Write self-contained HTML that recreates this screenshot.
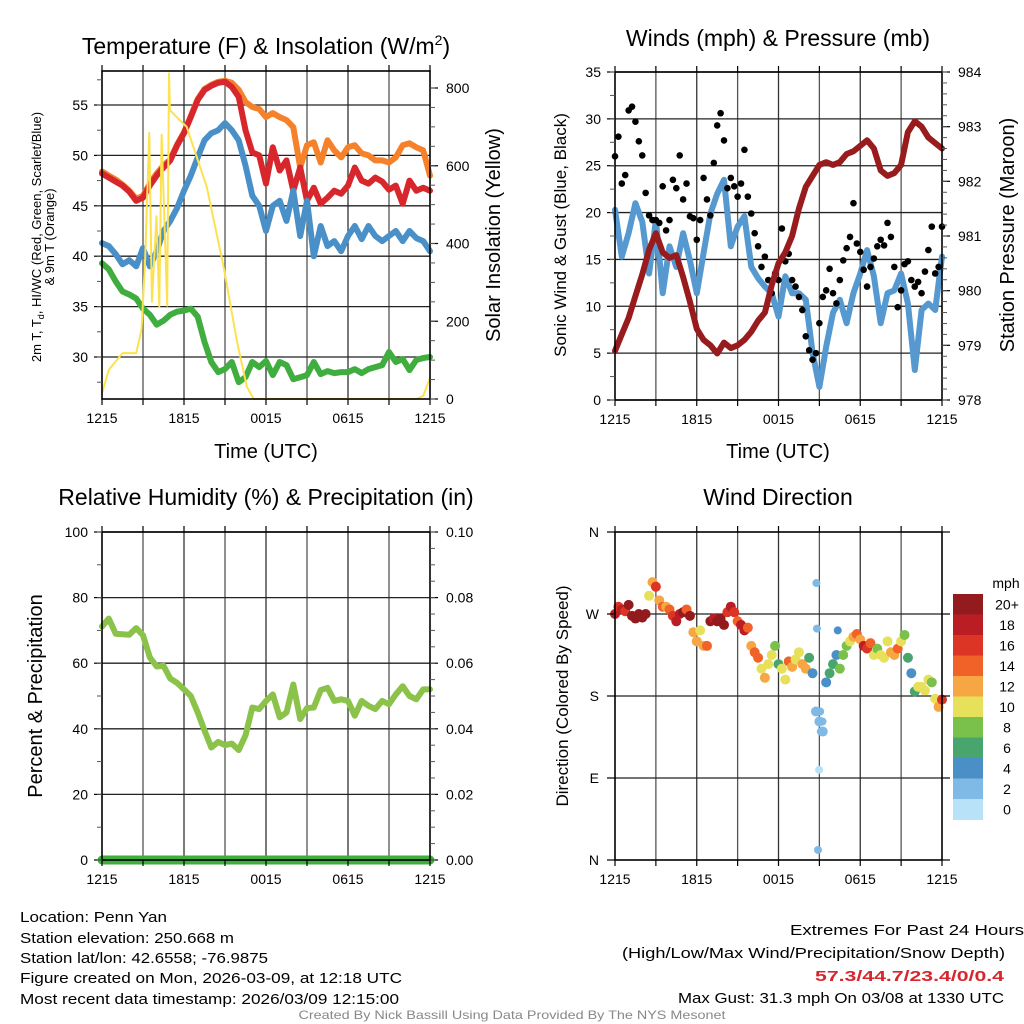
<!DOCTYPE html>
<html><head><meta charset="utf-8"><style>
html,body{margin:0;padding:0;background:#fff;}
svg{display:block;font-family:"Liberation Sans",sans-serif;}
</style></head><body>
<svg id="fig" width="1024" height="1024" viewBox="0 0 1024 1024" xmlns="http://www.w3.org/2000/svg">
<rect width="1024" height="1024" fill="#fff"/>
<g id="bg"></g>
<g id="marks"></g>
<g id="axes"></g>
<text x="266" y="54" font-size="23" text-anchor="middle">Temperature (F) &amp; Insolation (W/m<tspan font-size="14" dy="-9">2</tspan><tspan dy="9">)</tspan></text>
<text x="778" y="46" font-size="23" text-anchor="middle">Winds (mph) &amp; Pressure (mb)</text>
<text x="266" y="505" font-size="23" text-anchor="middle">Relative Humidity (%) &amp; Precipitation (in)</text>
<text x="778" y="505" font-size="23" text-anchor="middle">Wind Direction</text>
<g font-size="13" text-anchor="middle">
<text transform="translate(41,237) rotate(-90)">2m T, T<tspan font-size="9" dy="3">d</tspan><tspan dy="-3">, HI/WC (Red, Green, Scarlet/Blue)</tspan></text>
<text transform="translate(54,237) rotate(-90)">&amp; 9m T (Orange)</text>
</g>
<text transform="translate(500,235) rotate(-90)" font-size="20" text-anchor="middle">Solar Insolation (Yellow)</text>
<text transform="translate(566,235) rotate(-90)" font-size="17" text-anchor="middle">Sonic Wind &amp; Gust (Blue, Black)</text>
<text transform="translate(1014,235) rotate(-90)" font-size="20" text-anchor="middle">Station Pressure (Maroon)</text>
<text transform="translate(42,696) rotate(-90)" font-size="20" text-anchor="middle">Percent &amp; Precipitation</text>
<text transform="translate(568,696) rotate(-90)" font-size="17" text-anchor="middle">Direction (Colored By Speed)</text>
<text x="266" y="458" font-size="20" text-anchor="middle">Time (UTC)</text>
<text x="778" y="458" font-size="20" text-anchor="middle">Time (UTC)</text>
<g font-size="15" fill="#000">
<text x="20" y="922" textLength="147" lengthAdjust="spacingAndGlyphs">Location: Penn Yan</text>
<text x="20" y="943" textLength="214" lengthAdjust="spacingAndGlyphs">Station elevation: 250.668 m</text>
<text x="20" y="963" textLength="248" lengthAdjust="spacingAndGlyphs">Station lat/lon: 42.6558; -76.9875</text>
<text x="20" y="983" textLength="382" lengthAdjust="spacingAndGlyphs">Figure created on Mon, 2026-03-09, at 12:18 UTC</text>
<text x="20" y="1004" textLength="379" lengthAdjust="spacingAndGlyphs">Most recent data timestamp: 2026/03/09 12:15:00</text>
</g>
<g font-size="15" fill="#000">
<text x="790" y="935" textLength="234" lengthAdjust="spacingAndGlyphs">Extremes For Past 24 Hours</text>
<text x="622" y="958" textLength="383" lengthAdjust="spacingAndGlyphs">(High/Low/Max Wind/Precipitation/Snow Depth)</text>
<text x="815" y="981" textLength="189" lengthAdjust="spacingAndGlyphs" fill="#d7262c" font-weight="bold">57.3/44.7/23.4/0/0.4</text>
<text x="678" y="1003" textLength="326" lengthAdjust="spacingAndGlyphs">Max Gust: 31.3 mph On 03/08 at 1330 UTC</text>
</g>
<text x="512" y="1019" font-size="12" fill="#888" text-anchor="middle" textLength="427" lengthAdjust="spacingAndGlyphs">Created By Nick Bassill Using Data Provided By The NYS Mesonet</text>
</svg>
<script>
// ---- data (half-hourly unless noted, hours since 1215 UTC) ----
const xTickLabels = ["1215","1815","0015","0615","1215"];
const tempTicks = [30,35,40,45,50,55];
const solarTicks = [0,200,400,600,800];
const windTicks = [0,5,10,15,20,25,30,35];
const presTicks = [978,979,980,981,982,983,984];
const rhTicks = [0,20,40,60,80,100];
const precipTicks = ["0.00","0.02","0.04","0.06","0.08","0.10"];
const dirTickLabels = ["N","E","S","W","N"];
const speedBinLabels = ["0","2","4","6","8","10","12","14","16","18","20+"];

const tempRed = [48.2,47.8,47.4,47,46.4,45.5,45.8,47,48,48.8,49.5,51,52.2,53.8,55.5,56.5,56.9,57.2,57.3,56.8,55.8,52.5,50.3,50,47.2,50.8,48.5,49.5,46.5,48.8,45.5,46.8,45.2,45.8,46.5,46.2,47,48.8,47.5,47.2,47.8,47.4,46.6,47,45.2,47.5,46.5,46.8,46.5];
const temp9m = [48.4,48,47.6,47.1,46.5,45.7,46,47.2,48.2,49,49.6,51.1,52.3,53.9,55.6,56.6,57,57.3,57.4,57.2,56.5,55.3,54.8,54.6,53.8,54.2,53.8,53.5,52.8,48.8,51,51.3,49.3,51.5,50.5,49.8,50.8,51,50.2,50,49.5,49.5,49.3,49.8,51,51.2,50.8,50.5,48];
const tempBlue = [41.3,41,40.2,39.2,39.6,39,40.8,39,40.5,42.5,43.5,44.8,46.5,48,49.8,51.5,52.2,52.5,53.2,52.5,51.5,49,46,45,42.5,45,45.5,43.5,46.5,42,45.5,40,43,41,41.5,40.5,42,43,41.7,43,42,41.5,42,42.5,41.5,42.5,41.8,41.5,40.5];
const dewGreen = [39.3,38.7,37.5,36.5,36.2,35.8,34.8,34.2,33.2,33.6,34.2,34.5,34.6,34.8,34,31.5,29.5,28.5,28.8,29.5,27.5,28,29.5,29,29.6,28.2,29.5,29.2,27.8,28,28.2,29.5,28.3,28.6,28.4,28.5,28.5,28.8,28.4,28.8,29,29.2,30.5,29.5,29.8,28.7,29.7,29.9,30];
const solarHours = [0,0.5,1.5,2.5,2.9,3.15,3.46,3.65,3.99,4.19,4.36,4.77,4.9,4.97,5.7,6.2,7.67,8.9,9.9,10.6,11.1,12,23,23.5,24];
const solarVals = [15,75,118,118,180,357,685,250,470,237,680,240,838,743,717,700,545,340,144,31,0,0,0,8,54];

const windSpd = [20.3,15.3,17.8,21,19,13.5,19.2,11.4,16.4,14.2,17.8,14.9,11.4,15.7,19.9,22,23.5,16.4,18.5,19.6,14.2,13,12.1,11.4,8.9,13.2,11.4,11.4,10.7,5,1.4,5.7,9.3,10.7,8.2,11.4,13.5,16,13.2,8.2,11.4,11.7,13.5,10.3,3.2,9.6,10.3,9.6,15.3];
const gustSpd = [26,28.1,23.1,24,30.9,31.3,29.7,27.6,26.1,22.1,19.7,19.2,19.2,18.9,22.8,18.1,19.2,23.5,22.6,26.1,21.4,23.1,19.6,19.4,17.1,19.2,23.7,21.4,19.7,25.3,29.3,30.6,27.7,22.6,23.7,22.8,21.7,23.1,26.7,21.7,19.9,17.8,16.4,14.2,15.3,12.8,11.4,13.5,12.8,18.3,14.8,15.6,12.8,12.1,11,9.6,6.8,5.3,4.3,5,8.2,11,11.7,14,11.4,10.3,12.8,14.9,16.2,17.4,21,16.7,15.8,13.9,12.1,14.2,15.1,16.4,17.1,16.5,18.9,17.4,14.2,9.9,11.7,14.5,14.8,12.8,12.1,12.6,11.4,13.7,16,18.5,13.5,14.2,18.5];
const pressure = [978.9,979.2,979.5,979.9,980.3,980.75,981.05,980.7,980.6,980.65,980.25,979.8,979.3,979.1,979,978.85,979.05,978.95,979,979.1,979.25,979.45,979.6,980.1,980.5,980.7,981,981.5,981.9,982.1,982.3,982.35,982.3,982.35,982.5,982.55,982.65,982.75,982.6,982.2,982.1,982.15,982.3,982.9,983.1,983,982.8,982.7,982.6];

const rh = [71.2,73.6,69,68.8,68.7,70.7,68.5,61.8,59,59.2,55.3,54,52,50,45,39.5,34.3,36,35,35.5,33.5,38,46.5,46,48.5,50.5,43.5,45,53.5,43,46.3,46.5,51.8,52.5,48.5,49,48.5,44,48.5,47,46,48.5,47.5,50.5,53,50,49,52,52];
const precip = [0,0,0,0,0,0,0,0,0,0,0,0,0,0,0,0,0,0,0,0,0,0,0,0,0,0,0,0,0,0,0,0,0,0,0,0,0,0,0,0,0,0,0,0,0,0,0,0,0];

// wind direction, 15-minute
const windDir = [270,278,275,273,280,268,265,270,266,270,290,305,300,285,278,278,275,268,262,270,272,275,268,250,240,252,235,235,262,265,262,265,258,272,278,272,262,258,252,255,235,228,222,210,200,215,225,235,215,210,198,218,212,220,228,215,210,222,205,163,152,141,195,205,215,225,210,225,235,240,245,248,242,235,232,238,225,232,225,222,240,228,225,232,240,247,222,205,185,190,190,186,198,195,177,168,176];
const dirSpd = [18,16,18,16,20,20,20,20,20,20,10,12,16,12,14,12,14,16,18,18,20,14,20,12,12,10,12,14,20,18,20,20,20,16,18,16,14,18,18,14,12,14,14,10,12,10,10,8,6,10,10,14,12,10,10,12,12,6,4,2,2,2,4,6,6,4,8,8,8,10,12,14,12,18,16,14,10,8,10,10,10,12,12,14,10,8,6,4,6,10,10,10,10,8,10,12,16];
const calmHours = [14.78,14.82,15.06,15.23,15.1,14.98,14.9,16.35];
const calmDirs = [304,254,163,152,141,99,11,252];
const calmSpd = [2,2,2,2,2,0,2,4];

// ---- rendering ----
const NS = "http://www.w3.org/2000/svg";
const bg = document.getElementById('bg'), marks = document.getElementById('marks'), axes = document.getElementById('axes');
function el(tag, attrs, parent){const e=document.createElementNS(NS,tag);for(const k in attrs)e.setAttribute(k,attrs[k]);parent.appendChild(e);return e;}
function lin(d0,d1,r0,r1){return v=>r0+(v-d0)*(r1-r0)/(d1-d0);}
const binColors = ["#b7e2f7","#7fbae6","#4a8fc5","#49a56e","#7ac14c","#e6e05a","#f6a642","#f06228","#dc3425","#bb1d24","#931a1d"];

const P = {
  t:{x0:102,x1:430,y0:71,y1:399},
  w:{x0:615,x1:942,y0:72,y1:400},
  r:{x0:102,x1:430,y0:532,y1:860},
  d:{x0:615,x1:942,y0:532,y1:860}
};
for (const k in P){ P[k].x = lin(0,24,P[k].x0,P[k].x1); }

function frame(p, name){
  for(let h=3; h<24; h+=3){
    const g = el('line',{x1:p.x(h),x2:p.x(h),y1:p.y0,y2:p.y1,stroke:(h%6===0)?'#333':'#555','stroke-width':1.3},bg);
    
    
  }
  const r = el('rect',{x:p.x0,y:p.y0,width:p.x1-p.x0,height:p.y1-p.y0,fill:'none',stroke:'#000','stroke-width':1.6},axes);
  
  
  for(let i=0;i<=8;i++){
    const h=i*3, x=p.x(h);
    el('line',{x1:x,x2:x,y1:p.y1,y2:p.y1+6,stroke:'#000','stroke-width':1.2},axes);
    el('line',{x1:x,x2:x,y1:p.y0,y2:p.y0-6,stroke:'#000','stroke-width':1.2},axes);
    if(i%2===0){
      const t = el('text',{x:x,y:p.y1+24,'font-size':14,'text-anchor':'middle'},axes);
      t.textContent = xTickLabels[i/2];
      
      
    }
  }
}
function hGrid(p, y, vals, name){
  vals.forEach(v=>{
    const g = el('line',{x1:p.x0,x2:p.x1,y1:y(v),y2:y(v),stroke:'#222','stroke-width':1.3},bg);
    
    
  });
}
function leftTicks(p, y, vals, labels, name, minorStep){
  vals.forEach((v,i)=>{
    el('line',{x1:p.x0-8,x2:p.x0,y1:y(v),y2:y(v),stroke:'#000','stroke-width':1.2},axes);
    const t = el('text',{x:p.x0-14,y:y(v)+5,'font-size':14,'text-anchor':'end'},axes);
    t.textContent = labels[i];
    
    
  });
  if(minorStep){
    for(let v=vals[0]-minorStep; v<=vals[vals.length-1]+minorStep; v+=minorStep){
      const yy=y(v); if(yy<p.y0-1||yy>p.y1+1) continue;
      el('line',{x1:p.x0-5,x2:p.x0,y1:yy,y2:yy,stroke:'#555','stroke-width':1},axes);
    }
  }
}
function rightTicks(p, y, vals, labels, name, minorStep){
  vals.forEach((v,i)=>{
    el('line',{x1:p.x1,x2:p.x1+8,y1:y(v),y2:y(v),stroke:'#000','stroke-width':1.2},axes);
    const t = el('text',{x:p.x1+16,y:y(v)+5,'font-size':14,'text-anchor':'start'},axes);
    t.textContent = labels[i];
    
    
  });
  if(minorStep){
    for(let v=vals[0]; v<=vals[vals.length-1]+minorStep; v+=minorStep){
      const yy=y(v); if(yy<p.y0-1||yy>p.y1+1) continue;
      el('line',{x1:p.x1,x2:p.x1+5,y1:yy,y2:yy,stroke:'#555','stroke-width':1},axes);
    }
  }
}
function line(p, y, vals, hours, color, width, name){
  const pts = vals.map((v,i)=>p.x(hours? hours[i] : i*24/(vals.length-1)).toFixed(1)+','+y(v).toFixed(1)).join(' ');
  const pl = el('polyline',{points:pts,fill:'none',stroke:color,'stroke-width':width,'stroke-linejoin':'round','stroke-linecap':'round'},marks);
  
  
}

// Panel 1: temperature
const pt = P.t;
const yT = lin(30,55,357,105), yS = lin(0,800,399,88);
frame(pt,'temp');
hGrid(pt,yT,tempTicks,'temp');
leftTicks(pt,yT,tempTicks,tempTicks.map(String),'temp-y',2.5);
rightTicks(pt,yS,solarTicks,solarTicks.map(String),'solar-y',50);
line(pt,yT,dewGreen,null,'#3fae3f',6,'dewpoint-line');
line(pt,yT,temp9m,null,'#f5822a',6,'temp-9m-line');
line(pt,yT,tempRed,null,'#d7262c',6,'temp-2m-line');
line(pt,yT,tempBlue,null,'#4a90c8',6,'heat-index-windchill-line');
line(pt,yS,solarVals,solarHours,'#fde24f',2,'solar-insolation-line');

// Panel 2: winds
const pw = P.w;
const yW = lin(0,35,400,72), yP = lin(978,984,400,72);
frame(pw,'wind');
hGrid(pw,yW,windTicks,'wind');
leftTicks(pw,yW,windTicks,windTicks.map(String),'wind-y',2.5);
rightTicks(pw,yP,presTicks,presTicks.map(String),'pressure-y',0.2);
line(pw,yW,windSpd,null,'#5599d0',6,'sonic-wind-line');
gustSpd.forEach((g,i)=>{
  const c = el('circle',{cx:pw.x(i*0.25),cy:yW(g),r:3.3,fill:'#000'},marks);
  
  
});
line(pw,yP,pressure,null,'#981b1e',6,'pressure-line');

// Panel 3: RH
const pr = P.r;
const yR = lin(0,100,860,532), yPr = lin(0,0.1,860,532);
frame(pr,'rh');
hGrid(pr,yR,rhTicks,'rh');
leftTicks(pr,yR,rhTicks,rhTicks.map(String),'rh-y',10);
rightTicks(pr,yPr,precipTicks.map(Number),precipTicks,'precip-y',0.005);
line(pr,yR,rh,null,'#8bc34a',6,'relative-humidity-line');
line(pr,yPr,precip,null,'#3fae3f',9,'precipitation-line');

// Panel 4: wind direction
const pd = P.d;
const yD = lin(0,360,860,532);
frame(pd,'direction');
hGrid(pd,yD,[90,180,270],'direction');
[0,90,180,270,360].forEach((v,i)=>{
  el('line',{x1:pd.x0-8,x2:pd.x0,y1:yD(v),y2:yD(v),stroke:'#000','stroke-width':1.2},axes);
  el('line',{x1:pd.x1,x2:pd.x1+8,y1:yD(v),y2:yD(v),stroke:'#000','stroke-width':1.2},axes);
  const t = el('text',{x:pd.x0-16,y:yD(v)+5,'font-size':14,'text-anchor':'end'},axes);
  t.textContent = dirTickLabels[i];
  
  
});
function binColor(s){return binColors[Math.max(0,Math.min(10,Math.floor(s/2)))];}
windDir.forEach((d,i)=>{
  const c = el('circle',{cx:pd.x(i*0.25),cy:yD(d),r:5,fill:binColor(dirSpd[i])},marks);
  
  
});
calmDirs.forEach((d,i)=>{
  const c = el('circle',{cx:pd.x(calmHours[i]),cy:yD(d),r:4,fill:binColor(calmSpd[i])},marks);
  
  
});
// colorbar
const cbTop=594, cbH=20.5;
const mphLbl = el('text',{x:1006,y:588,'font-size':14,'text-anchor':'middle'},axes);
mphLbl.textContent='mph';


for(let k=0;k<11;k++){
  const idx = 10-k;
  const r = el('rect',{x:953,y:cbTop+k*cbH,width:30,height:cbH+0.5,fill:binColors[idx]},axes);
  
  
  const t = el('text',{x:1007,y:cbTop+k*cbH+cbH/2+5,'font-size':14,'text-anchor':'middle'},axes);
  t.textContent = speedBinLabels[idx];
  
  
}
</script>
</body></html>
